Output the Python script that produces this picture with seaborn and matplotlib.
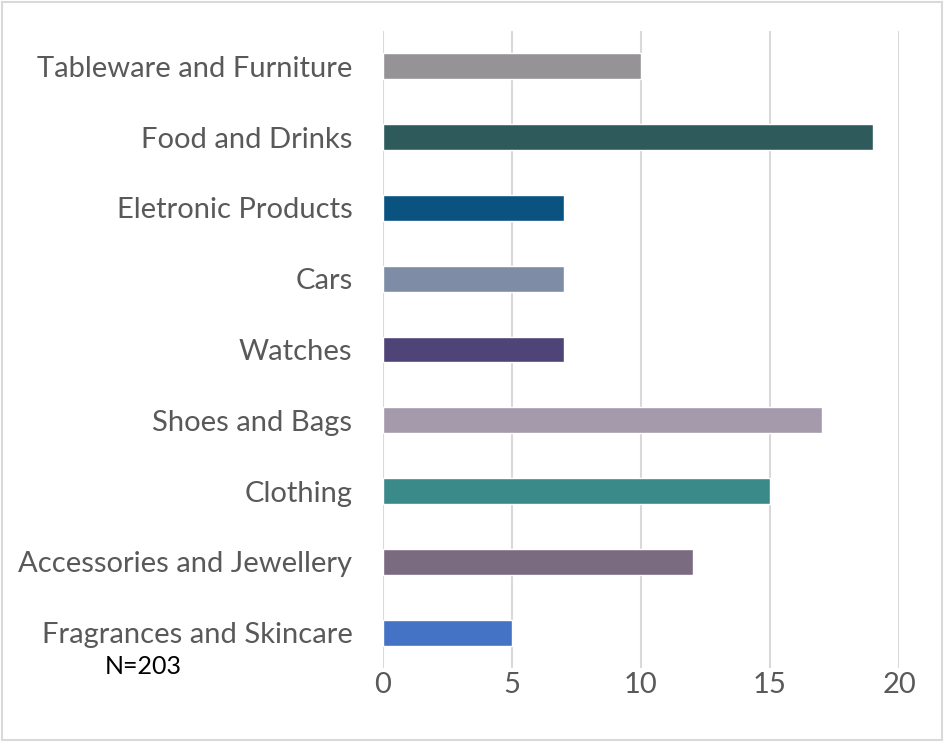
import matplotlib
matplotlib.use("Agg")
import matplotlib.pyplot as plt
import seaborn as sns
import pandas as pd
from matplotlib.patches import Rectangle

# Product categories (top to bottom) and their counts
categories = [
    "Tableware and Furniture",
    "Food and Drinks",
    "Eletronic Products",
    "Cars",
    "Watches",
    "Shoes and Bags",
    "Clothing",
    "Accessories and Jewellery",
    "Fragrances and Skincare",
]
counts = [10, 19, 7, 7, 7, 17, 15, 12, 5]
colors = [
    "#959396", "#2F5A5B", "#0A527F", "#7F8CA6", "#4F4478",
    "#A59AAC", "#3B8A8A", "#7A6B80", "#4472C4",
]
x_ticks = [0, 5, 10, 15, 20]
note = "N=203"

sns.set_theme(style="white")
plt.rcParams["font.family"] = ["Lato", "DejaVu Sans"]

df = pd.DataFrame({"category": categories, "count": counts})

W, H = 944, 742
fig = plt.figure(figsize=(W / 100, H / 100), dpi=100)
ax = fig.add_axes([383 / W, (H - 668) / H, (899 - 383) / W, (668 - 31) / H])

sns.barplot(
    data=df, y="category", x="count", hue="category",
    palette=dict(zip(categories, colors)), order=categories,
    width=0.367, legend=False, ax=ax, saturation=1,
)

ax.set_xlim(0, 20)
ax.set_ylim(len(categories) - 0.5, -0.5)
ax.set_xticks(x_ticks)
ax.xaxis.grid(True, color="#D9D9D9", linewidth=1.5)
ax.yaxis.grid(False)
ax.set_axisbelow(True)
for s in ax.spines.values():
    s.set_visible(False)
ax.set_xlabel("")
ax.set_ylabel("")
ax.tick_params(axis="both", length=0, labelsize=21, labelcolor="#595959")
ax.tick_params(axis="y", pad=22)
ax.tick_params(axis="x", pad=3)

fig.text(143 / W, 1 - 667 / H, note, ha="center", va="center",
         fontsize=18, color="black")

# thin frame around the whole figure
fig.patches.append(Rectangle((2 / W, 2 / H), 1 - 4 / W, 1 - 4 / H,
                             transform=fig.transFigure, fill=False,
                             edgecolor="#D9D9D9", linewidth=1.5))

fig.savefig("out.png", dpi=100, facecolor="white")
